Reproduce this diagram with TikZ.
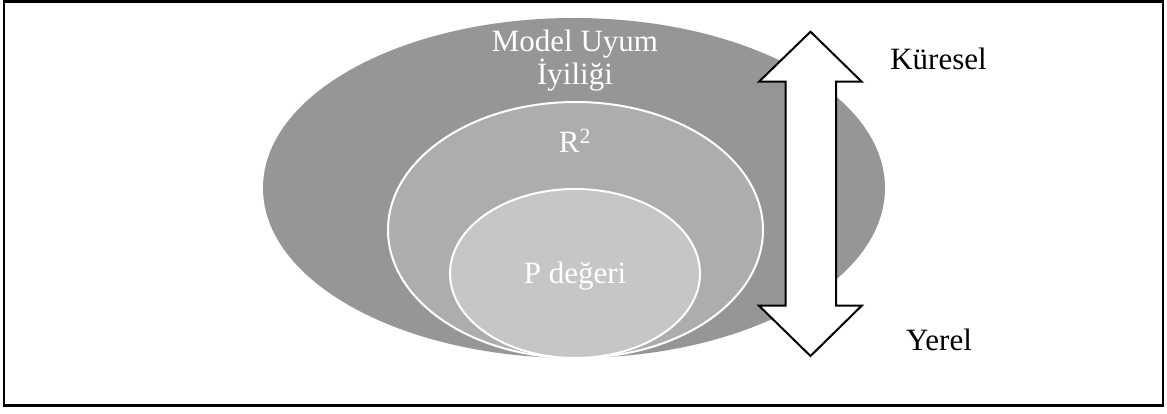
\documentclass[tikz,border=0pt]{standalone}
\usepackage{fontspec}
\setmainfont{Liberation Serif}
\usetikzlibrary{shapes.geometric}

\definecolor{ringouter}{HTML}{969696}
\definecolor{ringmid}{HTML}{ADADAD}
\definecolor{ringinner}{HTML}{C6C6C6}

\tikzset{
  ring/.style={ellipse, inner sep=0pt, outer sep=0pt},
  ringedge/.style={draw=white, line width=2pt},
  whitelabel/.style={text=white, anchor=base, inner sep=0pt,
    font=\fontsize{31}{34}\selectfont},
  sidelabel/.style={text=black, anchor=base, inner sep=0pt,
    font=\fontsize{31}{34}\selectfont},
  scalearrow/.style={draw=black, fill=white, line width=2pt, line join=miter},
  frame/.style={draw=black, line width=2.5pt}
}

\begin{document}
\begin{tikzpicture}[x=1pt, y=-1pt]
  \useasboundingbox (0,0) rectangle (1167,414);

  % outer frame
  \draw[frame] (4,1.5) rectangle (1163,405.5);

  % nested ellipses
  \node[ring, fill=ringouter, minimum width=622pt, minimum height=340pt] (outer) at (574,188) {};
  \node[ring, ringedge, fill=ringmid, minimum width=375pt, minimum height=256pt] (mid) at (575.5,230) {};
  \node[ring, ringedge, fill=ringinner, minimum width=250pt, minimum height=169pt] (inner) at (575,273.5) {};

  % double-headed scale arrow
  \draw[scalearrow]
    (810.5,31.7) -- (861.7,81.7) -- (836,81.7) -- (836,305.7) -- (861.7,305.7)
    -- (810.5,356) -- (759,305.7) -- (785.7,305.7) -- (785.7,81.7) -- (759,81.7) -- cycle;

  % labels
  \node[whitelabel] (fitA) at (575,51.7) {Model Uyum};
  \node[whitelabel] (fitB) at (575,85) {İyiliği};
  \node[whitelabel] (rsq) at (575,152.7) {R\textsuperscript{2}};
  \node[whitelabel] (pval) at (575,283) {P değeri};
  \node[sidelabel] (global) at (938.5,70) {Küresel};
  \node[sidelabel] (local) at (939,350) {Yerel};
\end{tikzpicture}
\end{document}
